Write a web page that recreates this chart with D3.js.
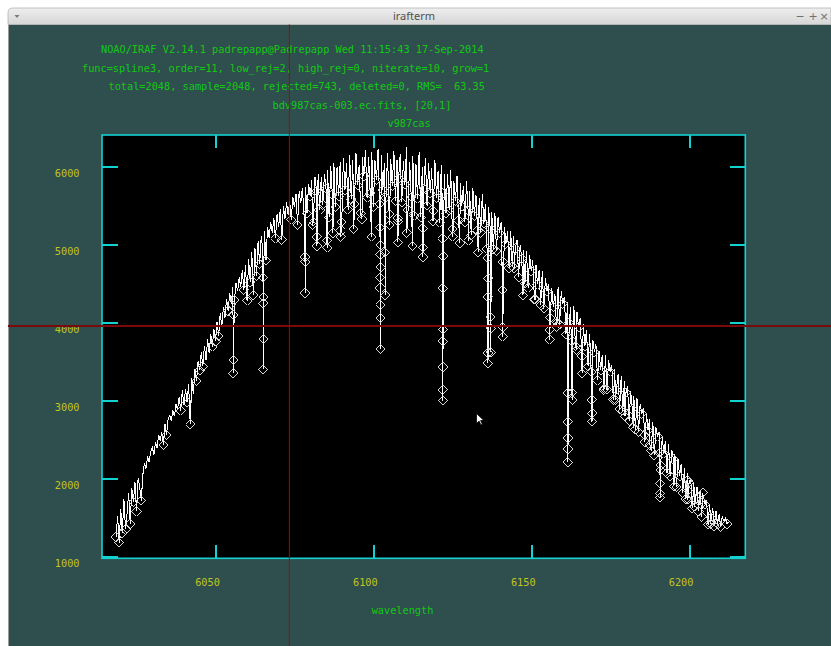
<!DOCTYPE html>
<html><head><meta charset="utf-8">
<script src="https://cdn.jsdelivr.net/npm/d3@7"></script>
<style>
html,body{margin:0;padding:0;background:#fff;overflow:hidden;}
svg{display:block;}
</style></head><body>
<svg id="c" width="831" height="646"></svg>
<script>
// ---------- data ----------
const windowTitle = "irafterm";
const headerLines = [
  "NOAO/IRAF V2.14.1 padrepapp@Padrepapp Wed 11:15:43 17-Sep-2014",
  "func=spline3, order=11, low_rej=2, high_rej=0, niterate=10, grow=1",
  "total=2048, sample=2048, rejected=743, deleted=0, RMS=  63.35",
  "bdv987cas-003.ec.fits, [20,1]",
  "v987cas"
];
const headerX = [101, 82, 108.5, 272.5, 387.5];
const xLabel = "wavelength";
const xTicks = [6050, 6100, 6150, 6200];
const yTicks = [1000, 2000, 3000, 4000, 5000, 6000];
const xDomain = [6014.06, 6217.8];
const yDomain = [979, 6405];

// spectrum sampled on a linear wavelength grid (start + step per pixel)
const waveStart = 6018.5, waveStep = 0.5;
const flux = [
1250,1520,1180,1610,1300,1740,1350,1550,1820,1420,
1880,1700,1960,1580,2010,1890,1720,2050,2200,2130,
2290,2210,2350,2400,2310,2470,2390,2560,2480,2600,
2430,2700,2560,2760,2810,2740,2880,2800,2950,2890,
3050,2870,3130,2940,3150,2980,3210,2700,3290,3080,
3410,3250,3510,3390,3620,3440,3700,3520,3790,3610,
3850,3690,3920,3760,4010,3830,4120,3940,4200,4060,
4300,4150,4380,4240,4450,4290,4510,4400,4580,4460,
4680,4420,4740,4280,4810,4520,4900,4350,4960,4600,
5040,4750,5110,4930,5170,4800,5230,5090,5290,5150,
5340,5080,5390,5230,5450,5060,5490,5330,5540,5380,
5560,5320,5610,5480,5650,5250,5690,5530,5720,5460,
5740,5400,5780,5620,5830,5300,5870,5690,5900,5450,
5860,5510,5910,5720,5960,5350,6010,5640,6050,5480,
5990,5620,6060,5290,6110,5700,6040,5450,6150,5580,
6080,5520,6170,5760,6020,5400,6120,5880,6210,5600,
6120,5660,6190,5480,6080,5830,6230,5520,6150,5700,
6040,5600,6180,5390,6100,5750,6200,5560,6090,5850,
6160,5540,6070,5770,6250,5450,6060,5610,6140,5370,
6030,5590,6190,5350,5990,5720,6110,5500,6050,5660,
5980,5430,6080,5600,5940,5280,6020,5660,5910,5400,
5900,5440,5960,5200,5820,5560,5880,5310,5790,5490,
5750,5290,5810,5440,5690,5120,5730,5370,5640,5180,
5600,5150,5650,5270,5520,4950,5480,5210,5420,4940,
5400,4920,5350,5150,5290,4780,5230,5010,5170,4700,
5180,4720,5110,4950,5060,4580,5000,4820,4930,4500,
4920,4450,4860,4660,4800,4300,4740,4490,4680,4220,
4660,4180,4570,4400,4500,4060,4440,4200,4370,3950,
4460,3980,4400,4240,4330,3850,4270,4000,4200,3760,
4210,3700,4130,3940,4060,3570,3980,3700,3910,3440,
3850,3370,3780,3620,3720,3260,3640,3390,3590,3140,
3590,3140,3520,3370,3460,3010,3400,3140,3340,2890,
3320,2870,3250,3100,3190,2740,3120,2890,3060,2630,
3030,2600,2960,2830,2900,2470,2830,2620,2770,2360,
2730,2300,2660,2540,2600,2170,2540,2320,2480,2070,
2440,2030,2370,2250,2310,1890,2250,2030,2190,1820,
2130,1740,2070,1950,2010,1620,1950,1740,1890,1580,
1860,1510,1790,1670,1730,1410,1670,1500,1620,1390,
1590,1420,1540,1380,1510,1460,1490,1420,1450
];
// indices of rejected grid pixels
const rejIdx = [
0,2,4,6,9, 11,13,16, 30,32, 41,45,47, 51,53,55, 61,63,65, 71,73,75,
81,83,85,87,89, 91,95, 101,105, 111,115,
121,123,125,127,129, 131,133,135,137,139, 141,143,145,147,149,
151,153,155,157,159, 161,163,165,167,169, 171,173,175,177,179,
181,183,185,187,189, 191,193,195,197,199, 201,203,205,207,209,
211,213,215,217,219, 221,223,225,227,229, 231,233,235,237,239,
241,243,245,247,249, 251,253,255,257,259, 261,263,265,267,269,
271,273,275,277,279, 281,283,285,287,289, 291,293,295,297,299,
301,303,305,307,309, 311,313,315,317,319, 321,323,325,327,329,
331,333,335,337,339, 341,343,345,347,349, 351,353,355,357,359,
361,363,365,367,369, 371,373,375,377,379, 381,383,387
];
// deep rejected dips and scattered low pixels (all rejected)
const dipWave = [
6055.55,6055.60,6055.65,
6065.05,6065.08,6065.10,6065.13,6065.16,
6078.35,6078.40,6078.45,
6082.10,6082.15, 6085.30,6085.35, 6089.60,6089.65, 6096.40,
6102.10,6102.13,6102.16,6102.19,6102.22,6102.25,6102.28,6102.31,6102.34,
6103.70,6103.75,
6107.75,6107.80,6107.85,
6115.65,6115.70,6115.75,
6121.90,6121.93,6121.96,6121.99,6122.02,6122.05,6122.08,6122.11,
6127.40,
6136.20,6136.25,6136.30,6136.35,6136.40,
6137.10,6137.15,6137.20,
6140.90,6140.95,6141.00,
6147.40,
6155.85,6155.90,
6161.55,6161.58,6161.61,6161.64,6161.67,
6162.90,6162.95,
6166.10,
6169.20,6169.25,6169.30,
6176.60, 6179.70, 6187.60,
6190.75,6190.80,6190.83,6190.86,6190.90,
6199.60,6199.65,6199.70,
6204.30,6204.35,
6080.70, 6087.20, 6093.80, 6099.40, 6105.10, 6110.60, 6112.40, 6118.90,
6125.20, 6130.10, 6133.20, 6144.60, 6151.30, 6158.20, 6164.40, 6173.10,
6182.30, 6185.90, 6195.20, 6201.80, 6206.90
];
const dipFlux = [
4100,3350,3520,
4580,4250,3400,3790,4330,
4840,4380,4780,
5100,4980, 5050,4960, 5180,5100, 5330,
5220,4870,4580,4230,3660,4060,4450,4710,4990,
4900,4350,
5340,5030,5300,
5210,4840,4960,
5080,4440,3760,3140,3000,3430,3910,4850,
5020,
4830,4330,3480,3610,4570,
4070,3620,3930,
4420,3820,3940,
4350,
3910,3780,
3100,2730,2210,2380,2520,
3100,3010,
3350,
3010,2730,2840,
3010, 2800, 2430,
2330,1940,1760,1810,2110,
1980,1730,1850,
1820,1700,
5250, 5150, 5200, 5100, 5250, 5150, 4980, 5300,
5100, 5050, 4900, 4700, 4300, 4000, 3650, 3150,
2650, 2560, 1900, 1640, 1420
];
// graphics cursor crosshair position (data units)
const cursorWave = 6073.4, cursorFlux = 3958;

// ---------- drawing ----------
const W = 831, H = 646;
const svg = d3.select("#c");
const pLeft = 102, pRight = 745.3, pTop = 135, pBottom = 558.3;
const x = d3.scaleLinear().domain(xDomain).range([pLeft, pRight]);
const y = d3.scaleLinear().domain(yDomain).range([pBottom, pTop]);

const MONO = "'DejaVu Sans Mono','Liberation Mono',monospace";
const GREEN = "#12c812", YELLOW = "#c4c41c", CYAN = "#12d2d2";

// window background
svg.append("rect").attr("x",0).attr("y",0).attr("width",W).attr("height",H).attr("fill","#ffffff");
svg.append("rect").attr("x",8).attr("y",24.5).attr("width",W-8).attr("height",H-24.5).attr("fill","#2f4f4f");
svg.append("line").attr("x1",8.5).attr("x2",8.5).attr("y1",20).attr("y2",H).attr("stroke","#9a9a9a").attr("stroke-width",1);

// title bar
const grad = svg.append("defs").append("linearGradient").attr("id","tb").attr("x1",0).attr("x2",0).attr("y1",0).attr("y2",1);
grad.append("stop").attr("offset","0%").attr("stop-color","#eeeeee");
grad.append("stop").attr("offset","100%").attr("stop-color","#d6d6d6");
svg.append("path").attr("d",`M8,24.5 L8,13 Q8,8 13,8 L${W},8 L${W},24.5 Z`).attr("fill","url(#tb)").attr("stroke","#b4b4b4").attr("stroke-width",0.8);
svg.append("text").attr("x",414).attr("y",20).attr("text-anchor","middle")
  .attr("font-family","'Noto Sans','DejaVu Sans',sans-serif").attr("font-size",11).attr("fill","#505050").text(windowTitle);
svg.append("path").attr("d","M14.5,15 L19.5,15 L17,18 Z").attr("fill","#7a7a7a");
const ctl = [["−",800],["+",813],["×",824]];
ctl.forEach(([t,cx])=>svg.append("text").attr("x",cx).attr("y",20).attr("text-anchor","middle")
  .attr("font-family","'DejaVu Sans',sans-serif").attr("font-size",11).attr("fill","#707070").text(t));

// header
const hb = [53.3, 71.8, 90.3, 108.8, 126.8];
headerLines.forEach((t,i)=>{
  svg.append("text").attr("x",headerX[i]).attr("y",hb[i])
    .attr("font-family",MONO).attr("font-size",10.25).attr("fill",GREEN)
    .style("white-space","pre").text(t);
});

// plot area
svg.append("rect").attr("x",pLeft).attr("y",pTop).attr("width",pRight-pLeft).attr("height",pBottom-pTop).attr("fill","#000");
svg.append("clipPath").attr("id","clip").append("rect").attr("x",pLeft).attr("y",pTop).attr("width",pRight-pLeft).attr("height",pBottom-pTop);

const rejSet = new Set(rejIdx);
const pts = flux.map((f,i)=>({w: waveStart + i*waveStep, f, rej: rejSet.has(i)}))
  .concat(dipWave.map((w,i)=>({w, f: dipFlux[i], rej: true})))
  .sort((a,b)=>a.w-b.w);

const g = svg.append("g").attr("clip-path","url(#clip)");
g.append("path").datum(pts)
  .attr("d", d3.line().x(d=>x(d.w)).y(d=>y(d.f)))
  .attr("fill","none").attr("stroke","#ffffff").attr("stroke-width",1)
  .attr("shape-rendering","crispEdges");
const sym = d3.symbol().type(d3.symbolSquare).size(44);
g.selectAll("path.rej").data(pts.filter(d=>d.rej)).join("path").attr("class","rej")
  .attr("d", sym())
  .attr("transform", d=>`translate(${x(d.w)},${y(d.f)}) rotate(45)`)
  .attr("fill","none").attr("stroke","#d8d8d8").attr("stroke-width",1)
  .attr("shape-rendering","crispEdges");

// axes (ticks point inward)
function styleAxis(sel){
  sel.select(".domain").remove();
  sel.selectAll(".tick line").attr("stroke",CYAN).attr("stroke-width",2).attr("shape-rendering","crispEdges");
  sel.selectAll("text").attr("fill",YELLOW).attr("font-family",MONO).attr("font-size",10.25);
}
const ax = svg.append("g").attr("transform",`translate(0,${pBottom})`)
  .call(d3.axisBottom(x).tickValues(xTicks).tickFormat(d3.format("d")).tickSize(-13).tickSizeOuter(0).tickPadding(20.3));
styleAxis(ax); ax.selectAll("text").attr("dx",-8.5);
const axT = svg.append("g").attr("transform",`translate(0,${pTop})`)
  .call(d3.axisTop(x).tickValues(xTicks).tickFormat("").tickSize(-13).tickSizeOuter(0));
styleAxis(axT);
const ay = svg.append("g").attr("transform",`translate(${pLeft},0)`)
  .call(d3.axisLeft(y).tickValues(yTicks).tickFormat(d3.format("d")).tickSize(-15.5).tickSizeOuter(0).tickPadding(22.5));
styleAxis(ay); ay.selectAll("text").attr("dy","1em");
const ayR = svg.append("g").attr("transform",`translate(${pRight},0)`)
  .call(d3.axisRight(y).tickValues(yTicks).tickFormat("").tickSize(-15.5).tickSizeOuter(0));
styleAxis(ayR);

// frame
svg.append("rect").attr("x",pLeft).attr("y",pTop).attr("width",pRight-pLeft).attr("height",pBottom-pTop)
  .attr("fill","none").attr("stroke",CYAN).attr("stroke-width",1.6);

// x-axis label
svg.append("text").attr("x",402.5).attr("y",613.5).attr("text-anchor","middle")
  .attr("font-family",MONO).attr("font-size",10.25).attr("fill",GREEN).text(xLabel);

// cursor crosshair
svg.append("line").attr("x1",8).attr("x2",W).attr("y1",y(cursorFlux)).attr("y2",y(cursorFlux))
  .attr("stroke","#7a0a0a").attr("stroke-width",2);
svg.append("line").attr("x1",x(cursorWave)).attr("x2",x(cursorWave)).attr("y1",24.5).attr("y2",H)
  .attr("stroke","#b00000").attr("stroke-width",1);

// mouse pointer
svg.append("path").attr("transform","translate(476.5,413.5)")
  .attr("d","M0,0 L0,10 L2.6,7.6 L4.4,11.4 L5.9,10.7 L4.1,7 L7.4,7 Z")
  .attr("fill","#ffffff").attr("stroke","#000").attr("stroke-width",0.8);
</script>
</body></html>
